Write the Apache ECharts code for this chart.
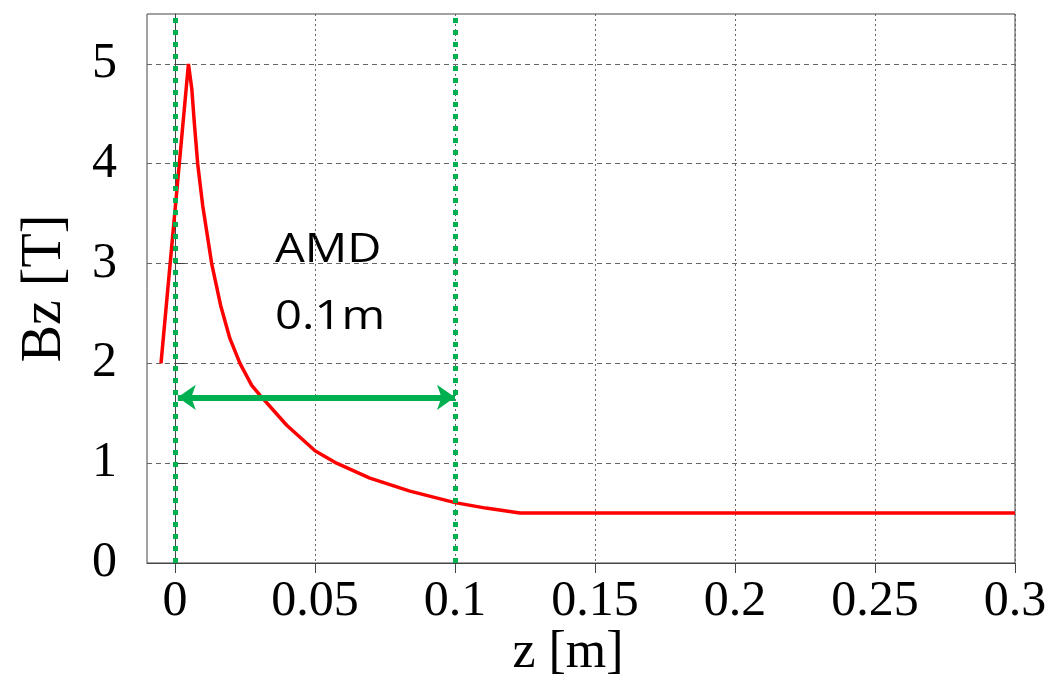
<!DOCTYPE html>
<html>
<head>
<meta charset="utf-8">
<script src="https://cdn.jsdelivr.net/npm/echarts@6/dist/echarts.min.js"></script>
<style>
  html, body { margin: 0; padding: 0; background: #fff; }
  #chart { width: 1048px; height: 677px; }
</style>
</head>
<body>
<div id="chart"></div>
<script>
// Axial field profile Bz(z) along the beam axis
const zValues  = [-0.005, 0.0048, 0.006, 0.0069, 0.0081, 0.0099, 0.0131, 0.0163, 0.0196, 0.0232, 0.0274, 0.0304, 0.0399, 0.05, 0.0577, 0.0696, 0.0839, 0.1, 0.111, 0.1232, 0.3];
const bzValues = [2.0, 5.0, 4.75, 4.41, 4.0, 3.58, 3.0, 2.58, 2.25, 2.0, 1.78, 1.68, 1.38, 1.125, 1.0, 0.85, 0.72, 0.605, 0.55, 0.5, 0.5];

// Tick positions
const xTicks = [0, 0.05, 0.1, 0.15, 0.2, 0.25, 0.3];
const yTicks = [0, 1, 2, 3, 4, 5];

// AMD region: boundaries in z, arrow span in z and its height in Bz
const amdBounds = [0, 0.1];
const arrowSpan = [0.001, 0.1];
const arrowLevel = 1.66;
const amdLabel = ['AMD', '0.1m'];

const serif = "'Liberation Serif', 'DejaVu Serif', serif";
const green = '#00b050';

const chart = echarts.init(document.getElementById('chart'), null, { renderer: 'canvas' });

chart.setOption({
  animation: false,
  backgroundColor: '#ffffff',
  grid: {
    left: 147, right: 33, top: 14, bottom: 114,
    outerBoundsMode: 'none',
    containLabel: false,
    show: true, borderColor: '#444', borderWidth: 1, backgroundColor: 'transparent'
  },
  xAxis: {
    type: 'value',
    min: -0.01, max: 0.3,
    name: 'z [m]',
    nameLocation: 'middle',
    nameGap: 64,
    nameMoveOverlap: false,
    nameTextStyle: { fontFamily: serif, fontSize: 52, color: '#000', padding: [0, 26, 0, 0] },
    axisLine: { show: true, lineStyle: { color: '#444', width: 1 } },
    axisTick: { show: true, inside: false, length: 10, customValues: xTicks, lineStyle: { color: '#444' } },
    axisLabel: { customValues: xTicks, fontFamily: serif, fontSize: 50, color: '#000', margin: 14,
      formatter: v => String(v) },
    splitLine: { show: true, lineStyle: { color: '#666', type: [2, 3], width: 1 } }
  },
  yAxis: {
    type: 'value',
    min: 0, max: 5.5,
    name: 'Bz [T]',
    nameLocation: 'middle',
    nameGap: 74,
    nameRotate: 90,
    nameMoveOverlap: false,
    nameTextStyle: { fontFamily: serif, fontSize: 56, color: '#000' },
    axisLine: { show: true, lineStyle: { color: '#444', width: 1 } },
    axisTick: { show: true, inside: true, length: 10, customValues: yTicks, lineStyle: { color: '#444' } },
    axisLabel: { customValues: yTicks, fontFamily: serif, fontSize: 50, color: '#000', margin: 30 },
    splitLine: { show: true, lineStyle: { color: '#666', type: [5, 4], width: 1 } }
  },
  series: [
    {
      name: 'Bz',
      type: 'line',
      data: zValues.map((z, i) => [z, bzValues[i]]),
      showSymbol: false,
      symbol: 'none',
      lineStyle: { color: '#ff0000', width: 3.5 },
      z: 3,
      markLine: {
        silent: true,
        symbol: ['none', 'none'],
        label: { show: false },
        lineStyle: { color: green, width: 5, type: [5, 7] },
        data: amdBounds.map(v => ({ xAxis: v }))
      }
    },
    {
      name: 'AMD length',
      type: 'line',
      data: [],
      markLine: {
        silent: true,
        symbol: ['arrow', 'arrow'],
        symbolSize: [19, 18],
        label: { show: false },
        lineStyle: { color: green, width: 6, type: 'solid' },
        data: [[{ coord: [arrowSpan[0], arrowLevel] }, { coord: [arrowSpan[1], arrowLevel] }]]
      }
    }
  ],
  graphic: [
    {
      type: 'text',
      left: 275, top: 217,
      scaleX: 1.18,
      style: {
        text: amdLabel.join('\n'),
        fontFamily: "'Open Sans', 'Liberation Sans', sans-serif",
        fontSize: 40,
        lineHeight: 67,
        fill: '#000'
      }
    }
  ]
});
</script>
</body>
</html>
